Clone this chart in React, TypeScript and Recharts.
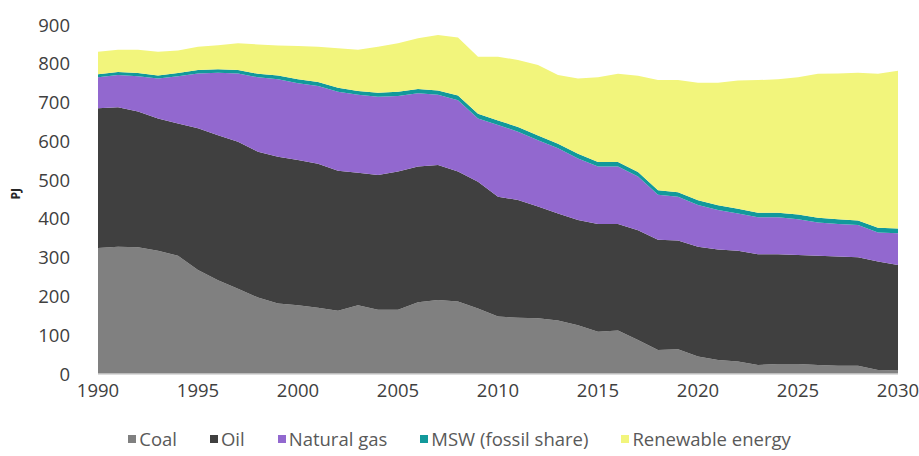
import React from "react";
import { AreaChart, Area, XAxis, YAxis } from "recharts";

const years = [1990,1991,1992,1993,1994,1995,1996,1997,1998,1999,2000,2001,2002,2003,2004,2005,2006,2007,2008,2009,2010,2011,2012,2013,2014,2015,2016,2017,2018,2019,2020,2021,2022,2023,2024,2025,2026,2027,2028,2029,2030];
const coal = [325,328,327,318,305,268,242,220,197,182,177,171,163,177,166,166,185,191,187,169,148,145,144,138,126,109,112,88,62,64,45,36,32,23,26,26,23,21,21,10,9];
const oil = [360,360,350,341,341,366,374,379,376,378,375,371,361,342,347,356,350,348,335,327,309,304,288,276,271,278,275,283,284,280,283,285,286,286,283,281,282,282,280,280,272];
const gas = [80,83,91,103,122,141,161,176,192,200,198,201,204,201,202,195,189,181,184,163,185,176,171,168,159,148,148,138,116,113,108,102,96,95,95,92,86,84,83,75,82];
const msw = [8,8,8,8,8,9,9,9,9,10,10,10,10,10,10,11,11,11,12,12,12,12,12,12,12,12,12,12,12,12,12,12,12,12,12,12,12,12,12,12,12];
const renewable = [58,57,60,61,58,60,62,69,76,77,86,91,102,106,119,125,131,143,150,147,164,173,182,177,194,218,227,248,284,289,303,316,331,342,344,354,371,376,381,397,407];

const xTicks = [1990,1995,2000,2005,2010,2015,2020,2025,2030];
const yTicks = [0,100,200,300,400,500,600,700,800,900];

const seriesNames = ["Coal","Oil","Natural gas","MSW (fossil share)","Renewable energy"];
const seriesKeys = ["coal","oil","gas","msw","renewable"];
const seriesColors = ["#808080","#404040","#9268cf","#12999b","#f2f57c"];

const data = years.map((y, i) => ({
  year: y,
  coal: coal[i],
  oil: oil[i],
  gas: gas[i],
  msw: msw[i],
  renewable: renewable[i],
}));

const FONT = "'Open Sans', sans-serif";

export default function App() {
  return (
    <div style={{ position: "fixed", left: 0, top: 0, width: 919, height: 456, background: "#fff" }}>
      <AreaChart width={919} height={456} data={data} margin={{ top: 25, right: 21, left: 0, bottom: 52 }}>
        <XAxis
          dataKey="year"
          type="number"
          domain={[1990, 2030]}
          ticks={xTicks}
          tickLine={false}
          tickSize={0}
          tickMargin={10}
          axisLine={{ stroke: "#d0d0d0", strokeWidth: 1.5 }}
          tick={{ fill: "#404040", fontSize: 18.5, fontFamily: FONT }}
          height={30}
        />
        <YAxis
          type="number"
          domain={[0, 900]}
          ticks={yTicks}
          width={98}
          axisLine={false}
          tickLine={false}
          tickSize={0}
          tickMargin={28}
          tick={{ fill: "#404040", fontSize: 18.5, fontFamily: FONT }}
          label={{ value: "PJ", angle: -90, position: "insideLeft", offset: 16, style: { fill: "#262626", fontSize: 12, fontWeight: "bold", fontFamily: FONT } }}
        />
        {seriesKeys.map((k, i) => (
          <Area
            key={k}
            type="linear"
            dataKey={k}
            name={seriesNames[i]}
            stackId="1"
            stroke="none"
            fill={seriesColors[i]}
            fillOpacity={1}
            isAnimationActive={false}
          />
        ))}
      </AreaChart>
      <div style={{ position: "absolute", top: 427, left: 0, width: 919, display: "flex", justifyContent: "center", fontFamily: FONT, fontSize: 18.5, color: "#595959", lineHeight: "24px" }}>
        {seriesNames.map((n, i) => (
          <div key={n} style={{ display: "flex", alignItems: "center", marginRight: i < seriesNames.length - 1 ? 33 : 0 }}>
            <span style={{ display: "inline-block", width: 8, height: 8, background: seriesColors[i], marginRight: 3 }} />
            <span>{n}</span>
          </div>
        ))}
      </div>
    </div>
  );
}
